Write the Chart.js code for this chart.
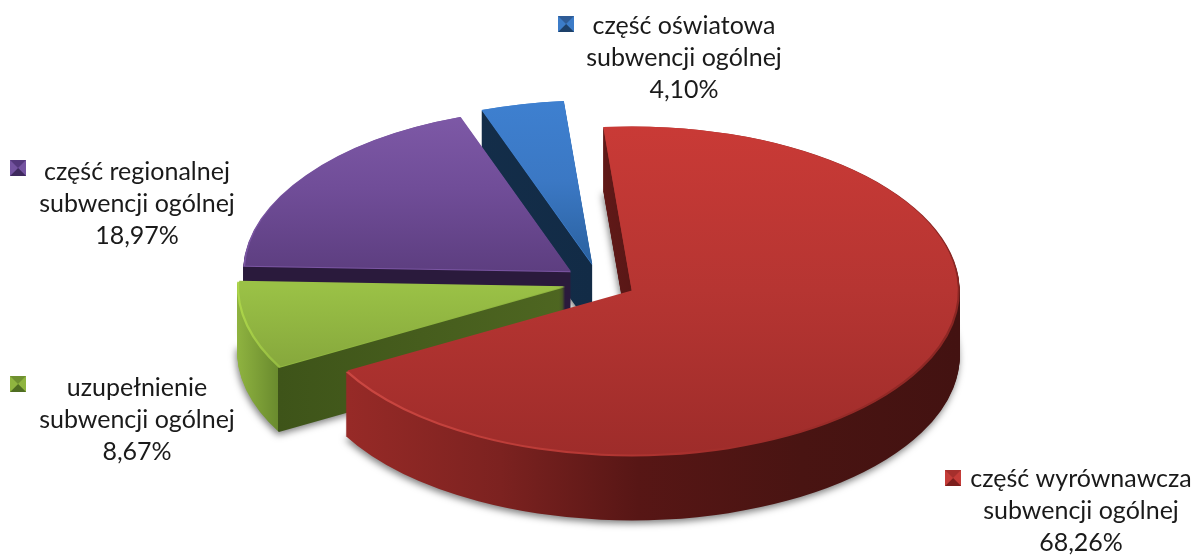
<!DOCTYPE html>
<html>
<head>
<meta charset="utf-8">
<style>
    html, body { margin: 0; padding: 0; background: #fff; }
    #wrap { width: 1193px; height: 556px; }
</style>
<script src="https://cdn.jsdelivr.net/npm/chart.js@4"></script>
</head>
<body>
<div id="wrap"><canvas id="pieChart" width="1193" height="556"></canvas></div>
<script>
// dane
const categories = ['część wyrównawcza', 'uzupełnienie', 'część regionalnej', 'część oświatowa'];
const subLabel = 'subwencji ogólnej';
const shares = [68.26, 8.67, 18.97, 4.10];

// 3D look of the pie
const SQUASH = 0.503;
const DEPTH = 64;
const EXPLODE = 36;
const RADIUS = 328;

// style, same order as categories
const topStops = [
    [[0, '#c93a36'], [0.5, '#b63532'], [1, '#9e2c2a']],
    [[0.5, '#9ac146'], [0.8, '#82a23a']],
    [[0, '#7f5aa8'], [0.25, '#704d98'], [0.5, '#5d3e80']],
    [[0, '#3e80d0'], [0.25, '#3b78c4'], [0.5, '#2a619f']]
];
const wallStops = [
    [[0, '#9c2b28'], [0.064, '#972a27'], [0.3, '#7c2220'], [0.51, '#571615'], [0.76, '#491412'], [1, '#431211']],
    [[0, '#8fb340'], [0.062, '#6a8b2e'], [0.0625, '#3e5419'], [0.5, '#4e6621']],
    [[0, '#2a1a3c'], [1, '#2a1a3c']],
    [[0, '#16324f'], [0.5, '#122b46'], [1, '#122b46']]
];
const rimStops = [
    [[0, '#cf4a44'], [0.4, '#b93a36'], [0.6, '#a52f2c'], [1, '#8a2623']],
    [[0, '#add64a'], [0.08, '#8fb53f']],
    [[0, '#7a55a2'], [1, '#7a55a2']],
    [[0, '#3e80d0'], [1, '#3e80d0']]
];
const iconColors = [
    ['#a52f2c', '#c43c38', '#7c1f1d', '#c43c38'],
    ['#6f9030', '#8fb53f', '#4f6d22', '#8fb53f'],
    ['#54387c', '#7453a0', '#3f2a5e', '#7453a0'],
    ['#2f5c96', '#3c7cc8', '#1d4069', '#3c7cc8']
];
// [text centre x, first baseline, icon x, icon y]
const labelPos = [
    [1081, 487, 945, 470],
    [137, 396, 10, 376],
    [137, 180, 10, 160],
    [684, 34, 558, 16]
];
const ICON = 16;
const LINE_H = 32;

function stopsGradient(ctx, x0, y0, x1, y1, stops) {
    const g = ctx.createLinearGradient(x0, y0, x1, y1);
    stops.forEach(s => g.addColorStop(s[0], s[1]));
    return g;
}

// draws one arc element, moved out of the centre and flattened
function paintArc(ctx, arc, fill, dy, shrink) {
    const mid = (arc.startAngle + arc.endAngle) / 2;
    const opts = arc.options;
    const radius = arc.outerRadius;
    ctx.save();
    ctx.translate(arc.x, arc.y + dy);
    ctx.scale(1, SQUASH);
    ctx.translate(Math.cos(mid) * EXPLODE, Math.sin(mid) * EXPLODE);
    ctx.translate(-arc.x, -arc.y);
    arc.options = Object.assign(Object.create(opts), { backgroundColor: fill(ctx) });
    arc.outerRadius = radius - shrink;
    arc.draw(ctx);
    arc.outerRadius = radius;
    arc.options = opts;
    ctx.restore();
}

const pie3d = {
    id: 'pie3d',
    beforeDatasetDraw(chart, args) {
        const ctx = chart.ctx;
        const arcs = args.meta.data;
        for (let i = arcs.length - 1; i >= 0; i--) {
            const arc = arcs[i];
            const r = arc.outerRadius;
            const wall = c => stopsGradient(c, arc.x - r, 0, arc.x + r, 0, wallStops[i]);
            const top = c => stopsGradient(c, 0, arc.y - r, 0, arc.y + r, topStops[i]);
            const rim = c => stopsGradient(c, arc.x - r, 0, arc.x + r, 0, rimStops[i]);
            // shadow only under the lowest layer
            ctx.save();
            ctx.shadowColor = 'rgba(0,0,0,0.5)';
            ctx.shadowBlur = 7;
            ctx.shadowOffsetX = -1;
            ctx.shadowOffsetY = 3;
            paintArc(ctx, arc, wall, DEPTH, 0);
            ctx.restore();
            for (let k = DEPTH - 1; k > 0; k--) {
                paintArc(ctx, arc, wall, k, 0);
            }
            paintArc(ctx, arc, rim, 0, 0);
            paintArc(ctx, arc, top, -1, 2);
        }
        return false;
    },
    afterDraw(chart) {
        const ctx = chart.ctx;
        ctx.save();
        ctx.font = '25px Lato, "Open Sans", sans-serif';
        ctx.textAlign = 'center';
        ctx.textBaseline = 'alphabetic';
        categories.forEach((name, i) => {
            const pos = labelPos[i];
            const lines = [name, subLabel, shares[i].toFixed(2).replace('.', ',') + '%'];
            ctx.fillStyle = '#1a1a1a';
            lines.forEach((text, n) => ctx.fillText(text, pos[0], pos[1] + n * LINE_H));
            drawIcon(ctx, pos[2], pos[3], iconColors[i]);
        });
        ctx.restore();
    }
};

// small pyramid square next to a label
function drawIcon(ctx, x, y, colors) {
    const cx = x + ICON / 2;
    const cy = y + ICON / 2;
    const corners = [[x, y], [x + ICON, y], [x + ICON, y + ICON], [x, y + ICON]];
    // base first, so the facets leave no white seams
    ctx.fillStyle = colors[0];
    ctx.fillRect(x, y, ICON, ICON);
    corners.forEach((p, i) => {
        const q = corners[(i + 1) % 4];
        ctx.beginPath();
        ctx.moveTo(p[0], p[1]);
        ctx.lineTo(q[0], q[1]);
        ctx.lineTo(cx, cy);
        ctx.closePath();
        ctx.fillStyle = colors[i];
        ctx.fill();
    });
}

const pieChart = new Chart(document.getElementById('pieChart'), {
    type: 'pie',
    data: {
        labels: categories,
        datasets: [{
            data: shares,
            backgroundColor: topStops.map(s => s[0][1]),
            borderWidth: 0
        }]
    },
    options: {
        responsive: false,
        animation: false,
        rotation: -5,
        radius: RADIUS,
        layout: { padding: { left: 7, top: 10 } },
        plugins: {
            legend: { display: false },
            tooltip: { enabled: false }
        }
    },
    plugins: [pie3d]
});
</script>
</body>
</html>
